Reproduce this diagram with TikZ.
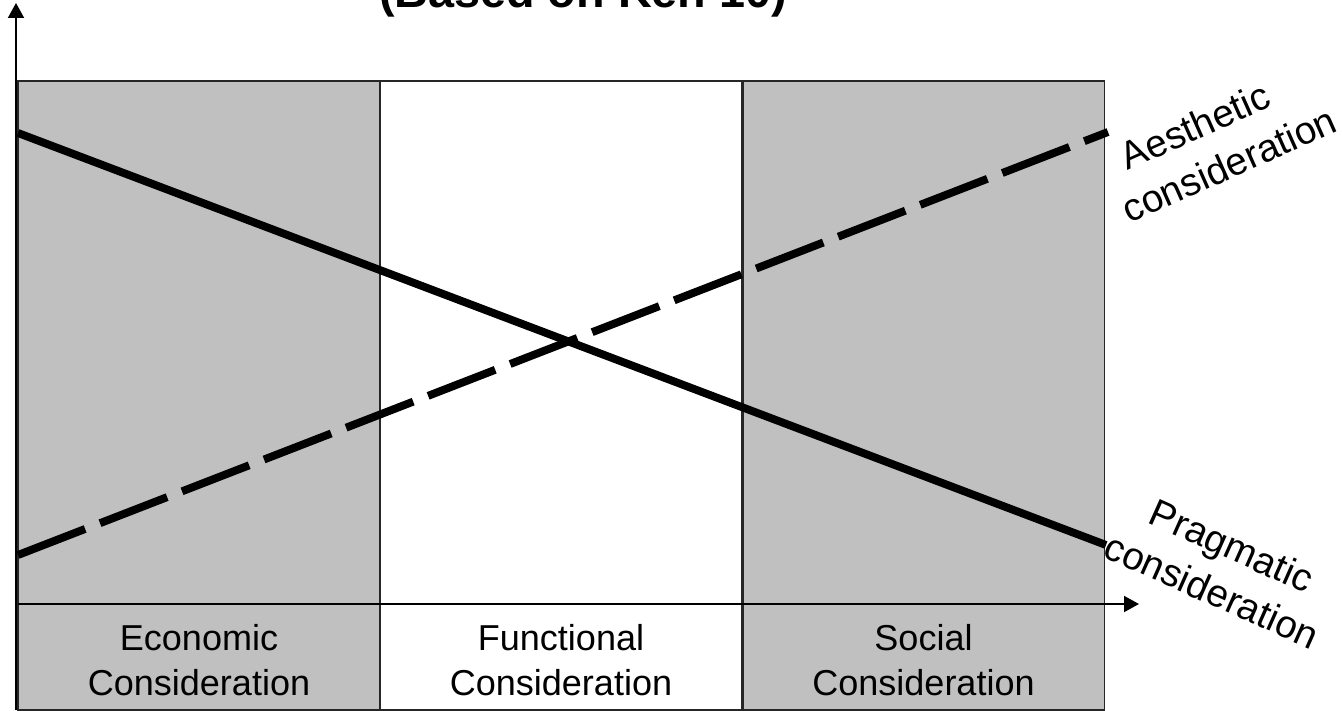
\documentclass[tikz,border=0pt]{standalone}
\usepackage{fontspec}
\setmainfont{Liberation Sans}
\usepackage{xcolor}
\usetikzlibrary{arrows.meta, positioning}
\definecolor{colgray}{RGB}{192,192,192}

\begin{document}
\begin{tikzpicture}[
    x=0.02cm, y=-0.02cm,
    font=\fontsize{20.5}{25.6}\selectfont,
    column/.style={draw=black!85, line width=1.1pt, minimum width=7.24cm, minimum height=12.58cm, inner sep=0pt},
    caption/.style={align=center, inner sep=0pt},
    slanted/.style={caption, font=\fontsize{22}{28}\selectfont},
    curve/.style={line width=4.5pt, draw=black},
    axis/.style={-{Triangle[length=0.3cm, width=0.32cm]}, line width=1.1pt, draw=black}
  ]
    \useasboundingbox (0,0) rectangle (1342,710);

    % Columns
    \node[column, fill=colgray] (econ) at (199,395.5) {};
    \node[column, fill=white] (func) at (561,395.5) {};
    \node[column, fill=colgray] (soc) at (923.5,395.5) {};

    % Column captions
    \node[caption] (l_econ) at (199,660) {Economic\\Consideration};
    \node[caption] (l_func) at (561,660) {Functional\\Consideration};
    \node[caption] (l_soc) at (923.5,660) {Social\\Consideration};

    % Axes
    \coordinate (ybot) at (16,710);
    \coordinate (ytip) at (16,3);
    \coordinate (xleft) at (18,604);
    \coordinate (xtip) at (1139,604);
    \draw[axis] (ybot) -- (ytip);
    \draw[axis] (xleft) -- (xtip);

    % Curves
    \coordinate (p_start) at (18,133);
    \coordinate (p_end) at (1106,545);
    \coordinate (a_start) at (18,555);
    \coordinate (a_end) at (1108,132);
    \draw[curve] (p_start) -- (p_end);
    \draw[curve, dash pattern=on 1.44cm off 0.32cm] (a_start) -- (a_end);

    % Curve labels
    \node[slanted, align=left, rotate=24] (l_aes) at (1219,142) {\hspace*{0.4cm}Aesthetic\\consideration};
    \node[slanted, rotate=-24] (l_prag) at (1222,568) {Pragmatic\\consideration};

    % Title
    \node[anchor=base, inner sep=0pt, font=\fontsize{26.6}{30}\selectfont\bfseries] (title) at (583,8) {(Based on Ken 10)};
  \end{tikzpicture}
\end{document}
